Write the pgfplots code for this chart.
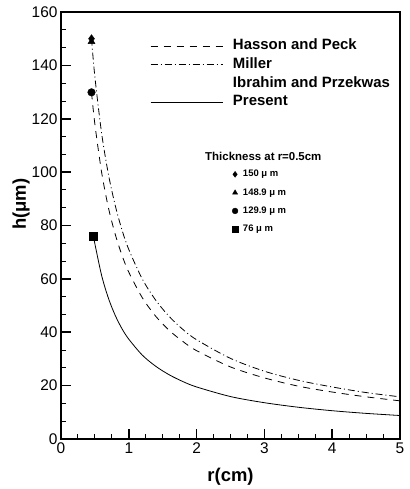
\documentclass[border=0pt]{standalone}
\usepackage{fontspec}
\setmainfont{Liberation Sans}
\usepackage{pgfplots}
\usepackage{pgfplotstable}
\pgfplotsset{compat=1.18}

% Miller (dash-dot)
\pgfplotstableread{
r h
0.45 150.0
0.5 135.6
0.6 114.4
0.7 99.1
0.8 87.5
0.9 78.3
1.0 71.0
1.2 59.9
1.4 51.9
1.6 45.8
1.8 41.0
2.0 37.2
2.5 30.2
3.0 25.4
3.5 22.0
4.0 19.5
4.5 17.4
5.0 15.8
}\miller
% Hasson and Peck (dashed)
\pgfplotstableread{
r h
0.45 129.9
0.5 117.9
0.6 99.8
0.7 86.6
0.8 76.7
0.9 68.8
1.0 62.5
1.2 52.9
1.4 45.9
1.6 40.6
1.8 36.5
2.0 33.1
2.5 27.0
3.0 22.9
3.5 19.8
4.0 17.6
4.5 15.8
5.0 14.3
}\hasson
% Present (solid)
\pgfplotstableread{
r h
0.48 76.0
0.5 73.1
0.6 61.2
0.7 52.7
0.8 46.3
0.9 41.3
1.0 37.4
1.2 31.4
1.4 27.2
1.6 24.0
1.8 21.5
2.0 19.5
2.5 15.9
3.0 13.6
3.5 11.9
4.0 10.6
4.5 9.6
5.0 8.8
}\present

\begin{document}
\begin{tikzpicture}
\useasboundingbox (-61bp,-50bp) rectangle (349bp,439bp);
\begin{axis}[
  scale only axis, width=339bp, height=427bp,
  xmin=0, xmax=5, ymin=0, ymax=160,
  xtick={0,1,...,5}, ytick={0,20,...,160},
  minor x tick num=3, minor y tick num=2,
  tick align=inside, xtick pos=bottom, ytick pos=left,
  major tick length=10bp, minor tick length=5bp,
  major tick style={line width=1.6bp, black},
  minor tick style={line width=0.9bp, black},
  axis line style={line width=2.2bp},
  ticklabel style={font=\fontsize{15.5}{18}\selectfont},
  /pgf/number format/assume math mode=true,
  xlabel={r(cm)}, ylabel={h(μm)},
  label style={font=\fontsize{18.5}{22}\selectfont\bfseries},
  xlabel style={at={(axis description cs:0.5,-0.0878)}, anchor=center},
  ylabel style={at={(axis description cs:-0.118,0.55)}, anchor=center},
  legend style={at={(rel axis cs:0.2625,0.9368)}, anchor=north west,
    draw=none, fill=none, inner sep=0pt, row sep=5.2bp, column sep=10bp,
    font=\fontsize{15}{17}\selectfont\bfseries,
    nodes={inner sep=0pt, text height=10.5bp, text depth=3bp}},
  legend cell align=left,
  legend image code/.code={\draw[#1] (0bp,0bp) -- (72bp,0bp);},
]
\addplot[black, line width=0.8bp, smooth, dash pattern=on 7bp off 6bp] table {\hasson};
\addlegendentry{Hasson and Peck}
\addplot[black, line width=0.8bp, smooth, dash pattern=on 7bp off 3bp on 1bp off 3bp] table {\miller};
\addlegendentry{Miller}
\addlegendimage{empty legend}
\addlegendentry{Ibrahim and Przekwas}
\addplot[black, line width=0.8bp, smooth] table {\present};
\addlegendentry{Present}
\node[anchor=west, inner sep=0pt, font=\fontsize{11.5}{13}\selectfont\bfseries] at (axis cs:2.124,105.9) {Thickness at r=0.5cm};
\end{axis}
\begin{axis}[
  scale only axis, width=339bp, height=427bp,
  xmin=0, xmax=5, ymin=0, ymax=160, hide axis,
  legend style={at={(rel axis cs:0.5044,0.6308)}, anchor=north west,
    draw=none, fill=none, inner sep=0pt, row sep=9.3bp, column sep=5bp,
    font=\fontsize{9.5}{11}\selectfont\bfseries,
    nodes={inner sep=0pt, text height=7bp, text depth=2bp}},
  legend cell align=left,
  legend image code/.code={\draw[#1, mark size=2.9bp] plot coordinates {(3bp,0bp)};},
]
\addplot[only marks, black, mark=diamond*, mark size=4bp] coordinates {(0.45,150)};
\addlegendentry{150 μ m}
\addplot[only marks, black, mark=triangle*, mark size=4bp] coordinates {(0.45,148.9)};
\addlegendentry{148.9 μ m}
\addplot[only marks, black, mark=*, mark size=3.8bp] coordinates {(0.45,129.9)};
\addlegendentry{129.9 μ m}
\addplot[only marks, black, mark=square*, mark size=4bp] coordinates {(0.48,76)};
\addlegendentry{76 μ m}
\end{axis}
\end{tikzpicture}
\end{document}
